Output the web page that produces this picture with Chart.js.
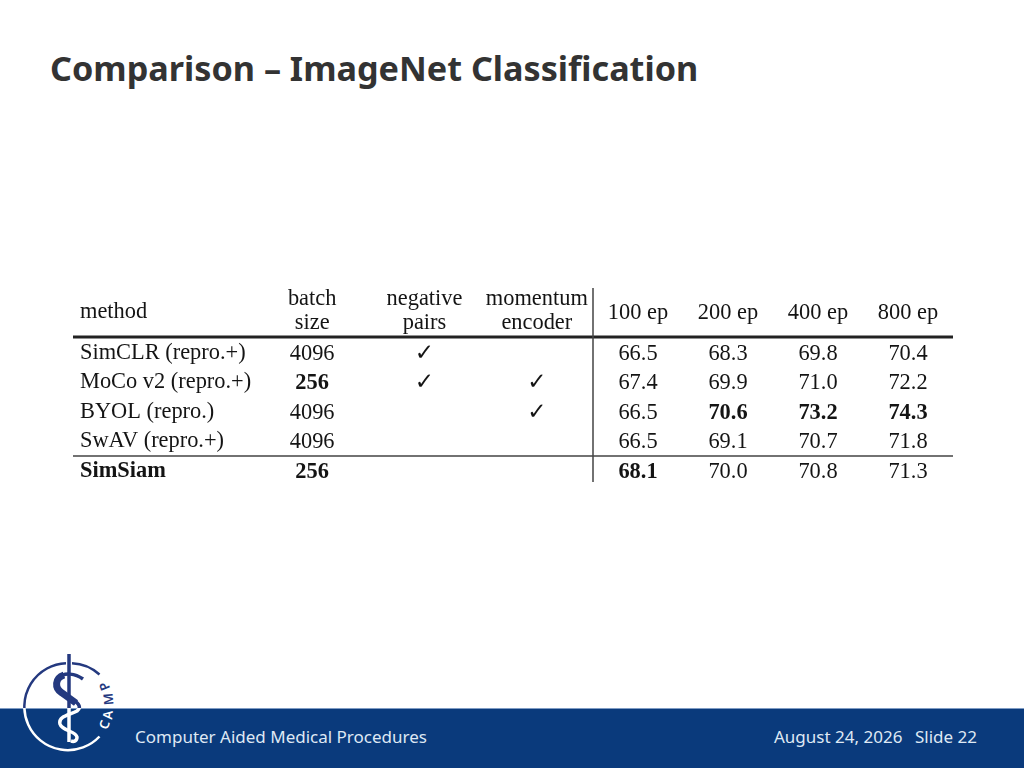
<!DOCTYPE html>
<html>
<head>
<meta charset="utf-8">
<title>Comparison – ImageNet Classification</title>
<script src="https://cdn.jsdelivr.net/npm/chart.js@4/dist/chart.umd.min.js"></script>
<style>
	html, body { margin: 0; padding: 0; background: #fff; }
	#slide { position: relative; width: 1024px; height: 768px; overflow: hidden; font-family: "Noto Sans", sans-serif; }
	h1 { position: absolute; left: 50px; top: 45px; margin: 0; font-size: 34.2px; line-height: 46px; font-weight: 700; color: #333; white-space: nowrap; }
	#band { position: absolute; left: 0; top: 708px; width: 1024px; height: 60px; background: #0a3a7c; border-top: 1px solid #7f9cc4; box-sizing: border-box; }
	.foot { position: absolute; top: 725px; font-size: 17px; line-height: 24px; color: #dfe8f4; white-space: nowrap; }
	#table { position: absolute; left: 0; top: 271px; }
	#logo { position: absolute; left: 0; top: 640px; }
</style>
</head>
<body>
<div id="slide">
	<h1>Comparison – ImageNet Classification</h1>
	<canvas id="table" width="1024" height="230"></canvas>
	<div id="band"></div>
	<svg id="logo" width="130" height="128" viewBox="0 640 130 128">
		<defs>
			<clipPath id="above"><rect x="0" y="640" width="130" height="68"/></clipPath>
			<clipPath id="below"><rect x="0" y="708" width="130" height="60"/></clipPath>
			<g id="mark" fill="none">
				<path d="M 99.5 674.5 A 43.5 43.5 0 0 0 72 663.2" stroke-width="2.5"/>
				<path d="M 66 663.2 A 43.5 43.5 0 1 0 99.5 736.5" stroke-width="2.5"/>
				<path d="M 69 654 L 69 742" stroke-width="3.5"/>
				<path d="M 83 679 C 76 674 64 671 58 679 C 52 690 66 696 73 700 C 80 704 81 708 77 711 C 70 715 58 716 60 724 C 62 731 76 731 77 737 C 77 741 74 742 71 741" stroke-width="3.5"/>
				<path d="M 64 675 C 55 678 54 688 62 693 L 76 703" stroke-width="7"/>
			</g>
		</defs>
		<use href="#mark" clip-path="url(#above)" stroke="#24397f"/>
		<use href="#mark" clip-path="url(#below)" stroke="#fff"/>
		<g font-family="Noto Sans" font-size="13" font-weight="600" text-anchor="middle">
			<text transform="translate(105 725) rotate(-70)" dy="4" fill="#fff">C</text>
			<text transform="translate(108.500 715) rotate(-85)" dy="4" fill="#fff">A</text>
			<text transform="translate(109 699) rotate(-95)" dy="4" fill="#24397f">M</text>
			<text transform="translate(105 686) rotate(-112)" dy="4" fill="#24397f">P</text>
		</g>
	</svg>
	<div class="foot" style="left: 135px">Computer Aided Medical Procedures</div>
	<div class="foot" style="left: 774px">August 24, 2026</div>
	<div class="foot" style="left: 915px">Slide 22</div>
</div>
<script>
const methods = ["SimCLR (repro.+)", "MoCo v2 (repro.+)", "BYOL (repro.)", "SwAV (repro.+)", "SimSiam"];
const featureColumns = ["batch size", "negative pairs", "momentum encoder"];
const epochColumns = ["100 ep", "200 ep", "400 ep", "800 ep"];

const batchSize = [4096, 256, 4096, 4096, 256];
const negativePairs = [true, true, false, false, false];
const momentumEncoder = [false, true, true, false, false];

const ep100 = [66.5, 67.4, 66.5, 66.5, 68.1];
const ep200 = [68.3, 69.9, 70.6, 69.1, 70.0];
const ep400 = [69.8, 71.0, 73.2, 70.7, 70.8];
const ep800 = [70.4, 72.2, 74.3, 71.8, 71.3];

const TABLE_FONT = "'Liberation Serif', serif";
const TEXT_COLOR = "#141414";
const TEXT_SIZE = 22.4;

// batch size: smallest is bold, accuracies: largest is bold
const numberColumn = (values, column, axis, best, digits) => ({
	xAxisID: axis,
	yAxisID: "rows",
	data: values.map((_, row) => ({ x: column, y: methods[row] })),
	cells: values.map((v) => v.toFixed(digits)),
	bold: values.map((v) => v === best(...values)),
	pointRadius: 0,
});

const checkColumn = (flags, column) => ({
	xAxisID: "features",
	yAxisID: "rows",
	data: flags.flatMap((on, row) => (on ? [{ x: column, y: methods[row] }] : [])),
	cells: flags.filter(Boolean).map(() => "\u2713"),
	isCheck: true,
	pointRadius: 0,
});

const datasets = [
	numberColumn(batchSize, featureColumns[0], "features", Math.min, 0),
	checkColumn(negativePairs, featureColumns[1]),
	checkColumn(momentumEncoder, featureColumns[2]),
	numberColumn(ep100, epochColumns[0], "epochs", Math.max, 1),
	numberColumn(ep200, epochColumns[1], "epochs", Math.max, 1),
	numberColumn(ep400, epochColumns[2], "epochs", Math.max, 1),
	numberColumn(ep800, epochColumns[3], "epochs", Math.max, 1),
];

const tablePlugin = {
	id: "tablePlugin",
	afterDatasetsDraw(chart) {
		const { ctx, chartArea, scales } = chart;
		const { rows, features, epochs } = scales;
		ctx.save();
		ctx.textAlign = "center";
		ctx.textBaseline = "middle";
		ctx.fillStyle = TEXT_COLOR;
		chart.data.datasets.forEach((set, idx) => {
			chart.getDatasetMeta(idx).data.forEach((pt, i) => {
				ctx.font = set.isCheck
					? `23px 'DejaVu Sans'`
					: `${set.bold[i] ? "bold " : ""}${TEXT_SIZE}px ${TABLE_FONT}`;
				ctx.fillText(set.cells[i], pt.x, pt.y + 1);
			});
		});

		// header of the first column sits level with the single line epoch labels
		ctx.textAlign = "left";
		ctx.font = `${TEXT_SIZE}px ${TABLE_FONT}`;
		ctx.fillText("method", rows.left, features.top + 23);

		const ruleLeft = rows.left - 7;
		ctx.strokeStyle = "#222";
		ctx.lineWidth = 3;
		ctx.beginPath();
		ctx.moveTo(ruleLeft, chartArea.top - 1);
		ctx.lineTo(chartArea.right, chartArea.top - 1);
		ctx.stroke();

		ctx.strokeStyle = "#444";
		ctx.lineWidth = 1.5;
		const lastRule = rows.getPixelForValue(methods.length - 1.5) - 0.5;
		ctx.beginPath();
		ctx.moveTo(ruleLeft, lastRule);
		ctx.lineTo(chartArea.right, lastRule);
		ctx.moveTo(epochs.left, epochs.top - 1);
		ctx.lineTo(epochs.left, chartArea.bottom - 4);
		ctx.stroke();
		ctx.restore();
	},
};

const columnAxis = (labels, weight, padding, callback) => ({
	type: "category",
	labels,
	position: "top",
	stack: "columns",
	stackWeight: weight,
	offset: true,
	grid: { display: false, drawTicks: false },
	border: { display: false },
	afterFit: (scale) => {
		scale.height = 49;
	},
	ticks: {
		color: TEXT_COLOR,
		padding,
		autoSkip: false,
		maxRotation: 0,
		font: { family: TABLE_FONT, size: TEXT_SIZE, lineHeight: 1.07 },
		callback,
	},
});

new Chart(document.getElementById("table"), {
	type: "scatter",
	data: { datasets },
	plugins: [tablePlugin],
	options: {
		responsive: false,
		animation: false,
		layout: { padding: { left: 80, right: 71, top: 18, bottom: 15 } },
		plugins: { legend: { display: false }, tooltip: { enabled: false } },
		scales: {
			epochs: columnAxis(epochColumns, 360, 13, function (value) {
				return this.getLabelForValue(value);
			}),
			features: columnAxis(featureColumns, 337, 3, function (value) {
				return this.getLabelForValue(value).split(" ");
			}),
			rows: {
				type: "category",
				labels: methods,
				position: "left",
				offset: true,
				grid: { display: false, drawTicks: false },
				border: { display: false },
				afterFit: (scale) => {
					scale.width = 176;
				},
				ticks: {
					color: TEXT_COLOR,
					padding: 0,
					crossAlign: "far",
					autoSkip: false,
					font: (ctx) => ({
						family: TABLE_FONT,
						size: TEXT_SIZE,
						weight: ctx.index === methods.length - 1 ? "bold" : "normal",
					}),
				},
			},
		},
	},
});
</script>
</body>
</html>
